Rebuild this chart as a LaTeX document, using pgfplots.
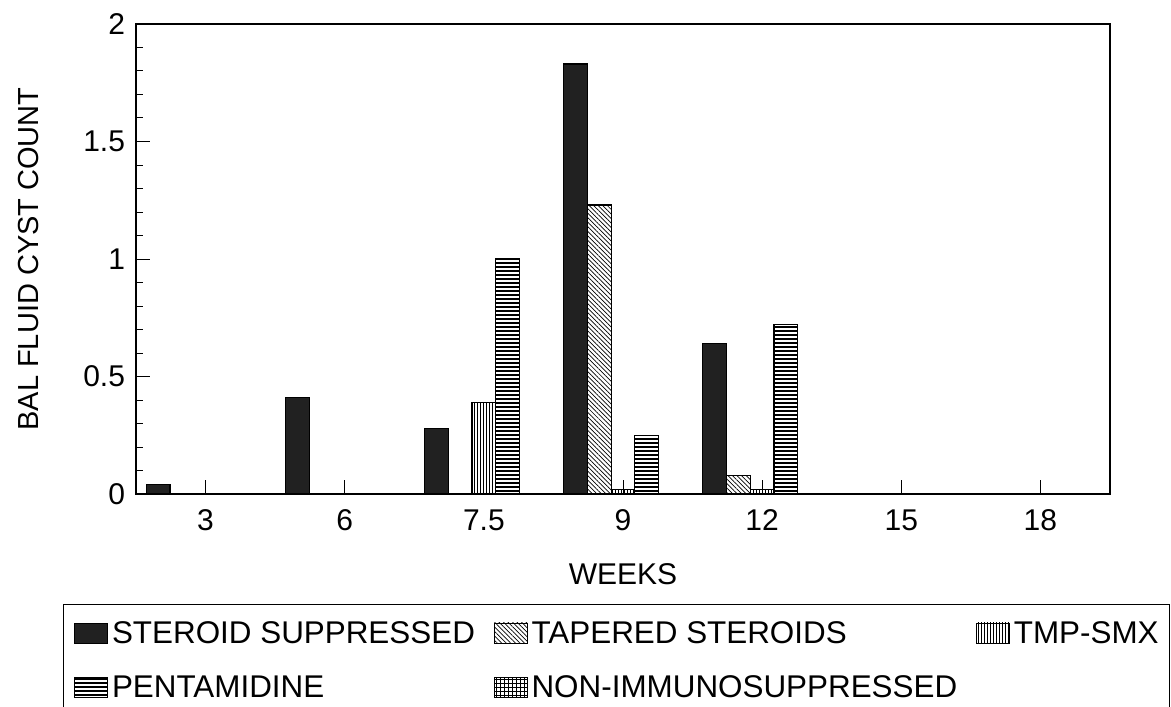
\documentclass[border=0pt]{standalone}
\usepackage{fontspec}
\setmainfont{Liberation Sans}
\usepackage{pgfplots}
\pgfplotsset{compat=1.18}
\usetikzlibrary{patterns.meta}

\pgfplotsset{
  swatch/.style={legend image code/.code={\draw[##1,line width=0.3bp] (0bp,0bp) rectangle (16.5bp,10.3bp);}},
  steroid/.style={draw=black, line width=0.6bp, fill=black!87, swatch},
  tapered/.style={draw=black, line width=0.6bp, pattern={Lines[angle=-45,distance=1.6bp,line width=0.35bp]}, swatch},
  tmpsmx/.style={draw=black, line width=0.6bp, pattern={Lines[angle=90,distance=1.5bp,line width=0.45bp]}, swatch},
  pentam/.style={draw=black, line width=0.6bp, pattern={Lines[angle=0,distance=2bp,line width=0.9bp]}, swatch},
  nonimm/.style={draw=black, line width=0.6bp, pattern={Hatch[angle=0,distance=2bp,line width=0.3bp]}, swatch},
}

\begin{document}
\begin{tikzpicture}
\begin{axis}[
  at={(0,0)}, anchor=south west,
  scale only axis, width=487bp, height=235bp,
  ybar=0pt, bar width=11.85bp,
  xmin=-0.5, xmax=6.5, ymin=0, ymax=2,
  xtick={0,1,2,3,4,5,6}, xticklabels={3,6,7.5,9,12,15,18},
  ytick={0,0.5,1,1.5,2},
  minor y tick num=4,
  tick align=inside,
  xtick pos=bottom, ytick pos=left,
  major tick length=7bp, minor tick length=3.5bp,
  every tick/.style={black, line width=0.5bp},
  axis line style={line width=0.6bp},
  /pgf/number format/assume math mode=true,
  yticklabel style={font=\fontsize{15bp}{18bp}\selectfont, xshift=-2bp},
  xticklabel style={font=\fontsize{15bp}{18bp}\selectfont, yshift=-4.5bp},
  xlabel={WEEKS},
  ylabel={BAL FLUID CYST COUNT},
  every axis x label/.style={at={(axis description cs:0.5,-0.1713)}, anchor=center, font=\fontsize{15bp}{18bp}\selectfont},
  every axis y label/.style={at={(axis description cs:-0.1099,0.5)}, rotate=90, anchor=center, font=\fontsize{14.5bp}{18bp}\selectfont},
  legend columns=3,
  legend cell align=left,
  legend style={
    at={(-0.0750,-0.2340)}, anchor=north west,
    draw=black, line width=0.5bp,
    font=\fontsize{15.7bp}{18bp}\selectfont,
    inner xsep=5.5bp, inner ysep=8.5bp,
    column sep=2bp, row sep=16bp,
    /tikz/every even column/.append style={column sep=9.5bp},
    nodes={inner sep=0pt, text height=11bp, text depth=0pt, anchor=base west},
  },
]
\addplot[steroid, bar shift=-23.7bp] coordinates {(0,0.04) (1,0.41) (2,0.28) (3,1.83) (4,0.64)};
\addplot[tapered, bar shift=-11.85bp] coordinates {(3,1.23) (4,0.08)};
\addplot[tmpsmx, bar shift=0bp] coordinates {(2,0.39) (3,0.02) (4,0.02)};
\addplot[pentam, bar shift=11.85bp] coordinates {(2,1.00) (3,0.25) (4,0.72)};
\addlegendimage{nonimm}
\legend{STEROID SUPPRESSED, TAPERED STEROIDS, TMP-SMX, PENTAMIDINE, NON-IMMUNOSUPPRESSED}
\end{axis}
\pgfresetboundingbox
\path[use as bounding box] (-68bp,-106.5bp) rectangle (517.5bp,247bp);
\end{tikzpicture}
\end{document}
